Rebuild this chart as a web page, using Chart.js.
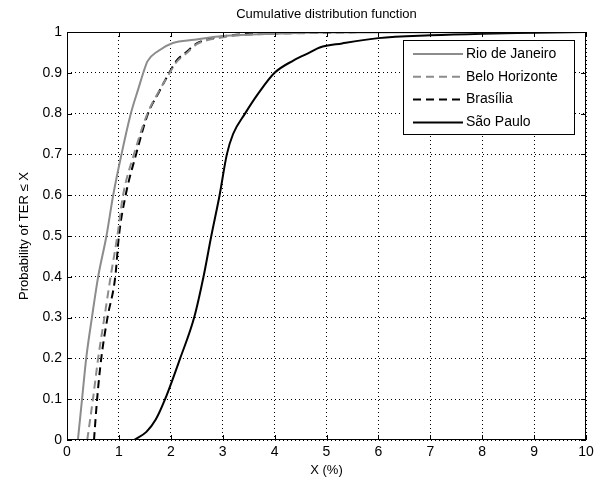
<!DOCTYPE html>
<html>
<head>
<meta charset="utf-8">
<script src="https://cdn.jsdelivr.net/npm/chart.js@4"></script>
<style>
  html, body { margin: 0; padding: 0; background: #fff; }
  #wrap { width: 599px; height: 485px; }
</style>
</head>
<body>
<div id="wrap"><canvas id="cdf"></canvas></div>
<script>
  // values (X in %, cumulative probability)
  const rioX = [0.21, 0.29, 0.37, 0.48, 0.6, 0.76, 0.89, 1.05, 1.23, 1.38, 1.47, 1.55, 1.75, 2.04, 2.45, 3.0, 4.0, 5.0, 10];
  const rioY = [0, 0.1, 0.2, 0.3, 0.4, 0.5, 0.6, 0.7, 0.8, 0.863, 0.9, 0.928, 0.953, 0.973, 0.981, 0.99, 0.996, 0.999, 1];

  const beloX = [0.39, 0.5, 0.6, 0.72, 0.84, 0.97, 1.08, 1.29, 1.55, 1.75, 1.98, 2.1, 2.32, 2.5, 2.95, 3.6, 4.5, 6.0, 10];
  const beloY = [0, 0.1, 0.2, 0.3, 0.4, 0.5, 0.6, 0.7, 0.8, 0.85, 0.9, 0.925, 0.95, 0.97, 0.986, 0.994, 0.997, 1, 1];

  const brasiliaX = [0.52, 0.58, 0.66, 0.78, 0.93, 1.0, 1.13, 1.33, 1.56, 1.76, 1.97, 2.1, 2.32, 2.5, 2.95, 3.6, 4.5, 6.0, 10];
  const brasiliaY = [0, 0.1, 0.2, 0.3, 0.4, 0.5, 0.6, 0.7, 0.8, 0.85, 0.9, 0.928, 0.953, 0.972, 0.988, 0.996, 0.998, 1, 1];

  const spX = [1.29, 1.53, 1.71, 1.89, 2.18, 2.45, 2.63, 2.78, 2.94, 3.08, 3.2, 3.43, 3.69, 4.0, 4.36, 4.68, 4.87, 5.3, 6.0, 7.0, 8.0, 9.0, 10];
  const spY = [0, 0.02, 0.05, 0.1, 0.2, 0.3, 0.4, 0.5, 0.6, 0.7, 0.75, 0.8, 0.85, 0.9, 0.93, 0.95, 0.962, 0.972, 0.985, 0.992, 0.996, 0.998, 1];

  const seriesNames = ['Rio de Janeiro', 'Belo Horizonte', 'Brasília', 'São Paulo'];
  const chartTitle = 'Cumulative distribution function';

  const pts = (xs, ys) => xs.map((x, i) => ({ x: x, y: ys[i] }));
  const FONT = 'Liberation Sans, Arial, sans-serif';

  // MATLAB-ish frame, inner ticks, title and legend box
  const matlabBits = {
    id: 'matlabBits',
    afterDraw(chart) {
      const ctx = chart.ctx;
      const a = chart.chartArea;
      const xs = chart.scales.x, ys = chart.scales.y;
      ctx.save();
      ctx.strokeStyle = '#000';
      ctx.lineWidth = 1;
      ctx.setLineDash([]);
      ctx.strokeRect(a.left + 0.5, a.top + 0.5, a.right - a.left - 1, a.bottom - a.top - 1);
      ctx.beginPath();
      xs.ticks.forEach(t => {
        const px = Math.round(xs.getPixelForValue(t.value)) + 0.5;
        ctx.moveTo(px, a.bottom); ctx.lineTo(px, a.bottom - 5);
        ctx.moveTo(px, a.top); ctx.lineTo(px, a.top + 5);
      });
      ys.ticks.forEach(t => {
        const py = Math.round(ys.getPixelForValue(t.value)) + 0.5;
        ctx.moveTo(a.left, py); ctx.lineTo(a.left + 5, py);
        ctx.moveTo(a.right, py); ctx.lineTo(a.right - 5, py);
      });
      ctx.stroke();

      // title
      ctx.fillStyle = '#000';
      ctx.font = '13px ' + FONT;
      ctx.textAlign = 'center';
      ctx.textBaseline = 'middle';
      ctx.fillText(chartTitle, (a.left + a.right) / 2, 14);

      // legend
      const bx = 403, by = 40, bw = 171, bh = 94;
      ctx.fillStyle = '#fff';
      ctx.fillRect(bx, by, bw, bh);
      ctx.strokeStyle = '#000';
      ctx.strokeRect(bx + 0.5, by + 0.5, bw, bh);
      ctx.font = '14px ' + FONT;
      ctx.textAlign = 'left';
      chart.data.datasets.forEach((ds, i) => {
        const ry = by + 14 + i * 22.8;
        ctx.strokeStyle = ds.borderColor;
        ctx.lineWidth = ds.borderWidth;
        ctx.setLineDash(ds.borderDash || []);
        ctx.beginPath();
        ctx.moveTo(bx + 10, ry); ctx.lineTo(bx + 60, ry);
        ctx.stroke();
        ctx.fillStyle = '#000';
        ctx.fillText(ds.label, bx + 63, ry);
      });
      ctx.restore();
    }
  };

  new Chart(document.getElementById('cdf'), {
    type: 'line',
    data: {
      datasets: [
        { label: seriesNames[0], data: pts(rioX, rioY), borderColor: '#8c8c8c', borderWidth: 2 },
        { label: seriesNames[1], data: pts(beloX, beloY), borderColor: '#8c8c8c', borderWidth: 2, borderDash: [8, 5] },
        { label: seriesNames[2], data: pts(brasiliaX, brasiliaY), borderColor: '#000', borderWidth: 2, borderDash: [8, 5] },
        { label: seriesNames[3], data: pts(spX, spY), borderColor: '#000', borderWidth: 2 }
      ]
    },
    options: {
      responsive: true,
      maintainAspectRatio: false,
      animation: false,
      devicePixelRatio: 1,
      layout: { padding: { top: 32, right: 13, left: 0, bottom: 0 } },
      elements: {
        point: { radius: 0 },
        line: { cubicInterpolationMode: 'monotone', fill: false }
      },
      plugins: {
        legend: { display: false },
        title: { display: false },
        tooltip: { enabled: false }
      },
      scales: {
        x: {
          type: 'linear',
          min: 0, max: 10,
          afterFit: s => { s.height = 45; },
          ticks: { stepSize: 1, color: '#000', padding: 4, font: { family: FONT, size: 14 } },
          grid: { color: '#000', lineWidth: 1, drawTicks: false },
          border: { display: false, dash: [1, 3] },
          title: { display: true, text: 'X (%)', color: '#000', font: { family: FONT, size: 13 }, padding: { top: 0, bottom: 7 } }
        },
        y: {
          type: 'linear',
          min: 0, max: 1,
          afterFit: s => { s.width = 67; },
          ticks: {
            stepSize: 0.1, color: '#000', padding: 5, font: { family: FONT, size: 14 },
            callback: v => String(Number(v.toFixed(1)))
          },
          grid: { color: '#000', lineWidth: 1, drawTicks: false },
          border: { display: false, dash: [1, 3] },
          title: { display: true, text: 'Probability of TER ≤ X', color: '#000', font: { family: FONT, size: 13 }, padding: { top: 17, bottom: 0 } }
        }
      }
    },
    plugins: [matlabBits]
  });
</script>
</body>
</html>
